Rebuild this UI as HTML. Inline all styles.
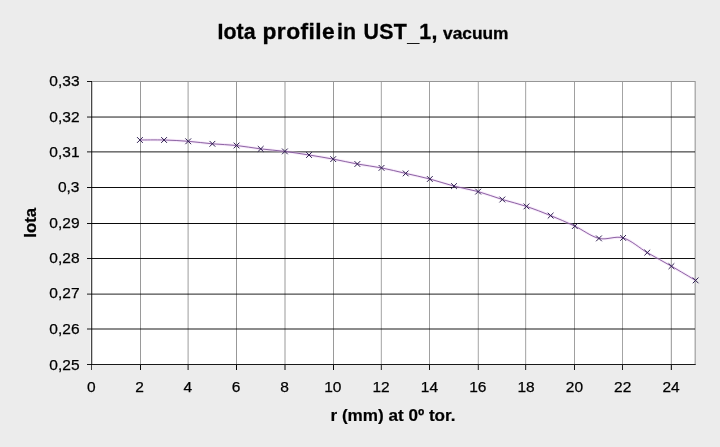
<!DOCTYPE html>
<html><head><meta charset="utf-8"><title>Iota profile in UST_1, vacuum</title>
<style>html,body{margin:0;padding:0;background:#ececec;}body{width:720px;height:447px;overflow:hidden;}svg{display:block;will-change:transform;}text{font-family:"Liberation Sans",sans-serif;fill:#000;}</style>
</head><body>
<svg width="720" height="447" viewBox="0 0 720 447">
<rect x="0" y="0" width="720" height="447" fill="#ececec"/>
<rect x="91" y="81" width="605" height="284" fill="#ffffff"/>
<g shape-rendering="crispEdges">
<rect x="90" y="82" width="1" height="282" fill="#f7f7f7"/>
<rect x="140" y="82" width="1" height="282" fill="#969696" fill-opacity="0.96"/>
<rect x="140" y="365" width="1" height="5" fill="#000" fill-opacity="0.96"/>
<rect x="187" y="82" width="1" height="282" fill="#969696" fill-opacity="0.38"/>
<rect x="187" y="365" width="1" height="5" fill="#000" fill-opacity="0.38"/>
<rect x="188" y="82" width="1" height="282" fill="#969696" fill-opacity="0.56"/>
<rect x="188" y="365" width="1" height="5" fill="#000" fill-opacity="0.56"/>
<rect x="236" y="82" width="1" height="282" fill="#969696" fill-opacity="0.98"/>
<rect x="236" y="365" width="1" height="5" fill="#000" fill-opacity="0.98"/>
<rect x="284" y="82" width="1" height="282" fill="#969696" fill-opacity="0.49"/>
<rect x="284" y="365" width="1" height="5" fill="#000" fill-opacity="0.49"/>
<rect x="285" y="82" width="1" height="282" fill="#969696" fill-opacity="0.49"/>
<rect x="285" y="365" width="1" height="5" fill="#000" fill-opacity="0.49"/>
<rect x="333" y="82" width="1" height="282" fill="#969696" fill-opacity="0.96"/>
<rect x="333" y="365" width="1" height="5" fill="#000" fill-opacity="0.96"/>
<rect x="380" y="82" width="1" height="282" fill="#969696" fill-opacity="0.16"/>
<rect x="380" y="365" width="1" height="5" fill="#000" fill-opacity="0.16"/>
<rect x="381" y="82" width="1" height="282" fill="#969696" fill-opacity="0.71"/>
<rect x="381" y="365" width="1" height="5" fill="#000" fill-opacity="0.71"/>
<rect x="429" y="82" width="1" height="282" fill="#969696" fill-opacity="0.90"/>
<rect x="429" y="365" width="1" height="5" fill="#000" fill-opacity="0.90"/>
<rect x="477" y="82" width="1" height="282" fill="#969696" fill-opacity="0.19"/>
<rect x="477" y="365" width="1" height="5" fill="#000" fill-opacity="0.19"/>
<rect x="478" y="82" width="1" height="282" fill="#969696" fill-opacity="0.68"/>
<rect x="478" y="365" width="1" height="5" fill="#000" fill-opacity="0.68"/>
<rect x="525" y="82" width="1" height="282" fill="#969696" fill-opacity="0.75"/>
<rect x="525" y="365" width="1" height="5" fill="#000" fill-opacity="0.75"/>
<rect x="526" y="82" width="1" height="282" fill="#969696" fill-opacity="0.14"/>
<rect x="526" y="365" width="1" height="5" fill="#000" fill-opacity="0.14"/>
<rect x="574" y="82" width="1" height="282" fill="#969696" fill-opacity="0.90"/>
<rect x="574" y="365" width="1" height="5" fill="#000" fill-opacity="0.90"/>
<rect x="622" y="82" width="1" height="282" fill="#969696" fill-opacity="0.87"/>
<rect x="622" y="365" width="1" height="5" fill="#000" fill-opacity="0.87"/>
<rect x="670" y="82" width="1" height="282" fill="#969696" fill-opacity="0.19"/>
<rect x="670" y="365" width="1" height="5" fill="#000" fill-opacity="0.19"/>
<rect x="671" y="82" width="1" height="282" fill="#969696" fill-opacity="0.83"/>
<rect x="671" y="365" width="1" height="5" fill="#000" fill-opacity="0.83"/>
<rect x="92" y="81" width="603" height="1" fill="#969696"/>
<rect x="694" y="82" width="1" height="282" fill="#969696" fill-opacity="0.38"/>
<rect x="695" y="81" width="1" height="284" fill="#969696" fill-opacity="0.75"/>
<rect x="87" y="116" width="608" height="1" fill="#000" fill-opacity="0.42"/>
<rect x="87" y="117" width="608" height="1" fill="#000" fill-opacity="0.48"/>
<rect x="87" y="151" width="608" height="1" fill="#000" fill-opacity="0.55"/>
<rect x="87" y="152" width="608" height="1" fill="#000" fill-opacity="0.34"/>
<rect x="87" y="187" width="608" height="1" fill="#000" fill-opacity="0.95"/>
<rect x="87" y="223" width="608" height="1" fill="#000" fill-opacity="0.96"/>
<rect x="87" y="258" width="608" height="1" fill="#000" fill-opacity="0.93"/>
<rect x="87" y="293" width="608" height="1" fill="#000" fill-opacity="0.34"/>
<rect x="87" y="294" width="608" height="1" fill="#000" fill-opacity="0.53"/>
<rect x="87" y="328" width="608" height="1" fill="#000" fill-opacity="0.45"/>
<rect x="87" y="329" width="608" height="1" fill="#000" fill-opacity="0.45"/>
<rect x="87" y="81" width="5" height="1" fill="#000" fill-opacity="0.9"/>
<rect x="91" y="81" width="1" height="289" fill="#000" fill-opacity="0.72"/>
<rect x="92" y="82" width="1" height="282" fill="#000" fill-opacity="0.2"/>
<rect x="87" y="364" width="608" height="1" fill="#000" fill-opacity="0.9"/>
<rect x="695" y="364" width="1" height="1" fill="#000" fill-opacity="0.55"/>
</g>
<path d="M139.92 140.00 C143.95 140.00 156.03 139.78 164.08 140.00 C172.13 140.22 180.19 140.67 188.24 141.30 C196.29 141.93 204.35 143.10 212.40 143.80 C220.45 144.50 228.51 144.65 236.56 145.50 C244.61 146.35 252.67 147.92 260.72 148.90 C268.77 149.88 276.83 150.38 284.88 151.40 C292.93 152.42 300.99 153.72 309.04 155.00 C317.09 156.28 325.15 157.60 333.20 159.10 C341.25 160.60 349.31 162.53 357.36 164.00 C365.41 165.47 373.47 166.33 381.52 167.90 C389.57 169.47 397.63 171.55 405.68 173.40 C413.73 175.25 421.79 176.88 429.84 179.00 C437.89 181.12 445.95 184.00 454.00 186.10 C462.05 188.20 470.11 189.37 478.16 191.60 C486.21 193.83 494.27 197.03 502.32 199.50 C510.37 201.97 518.43 203.72 526.48 206.40 C534.53 209.08 542.59 212.32 550.64 215.60 C558.69 218.88 566.75 222.30 574.80 226.10 C582.85 229.90 590.91 236.43 598.96 238.40 C607.01 240.37 615.07 235.53 623.12 237.90 C631.17 240.27 639.23 247.88 647.28 252.60 C655.33 257.32 663.39 261.57 671.44 266.20 C679.49 270.83 691.57 278.03 695.60 280.40" fill="none" stroke="#ecc8f2" stroke-width="2.8" stroke-opacity="0.4"/>
<path d="M139.92 140.00 C143.95 140.00 156.03 139.78 164.08 140.00 C172.13 140.22 180.19 140.67 188.24 141.30 C196.29 141.93 204.35 143.10 212.40 143.80 C220.45 144.50 228.51 144.65 236.56 145.50 C244.61 146.35 252.67 147.92 260.72 148.90 C268.77 149.88 276.83 150.38 284.88 151.40 C292.93 152.42 300.99 153.72 309.04 155.00 C317.09 156.28 325.15 157.60 333.20 159.10 C341.25 160.60 349.31 162.53 357.36 164.00 C365.41 165.47 373.47 166.33 381.52 167.90 C389.57 169.47 397.63 171.55 405.68 173.40 C413.73 175.25 421.79 176.88 429.84 179.00 C437.89 181.12 445.95 184.00 454.00 186.10 C462.05 188.20 470.11 189.37 478.16 191.60 C486.21 193.83 494.27 197.03 502.32 199.50 C510.37 201.97 518.43 203.72 526.48 206.40 C534.53 209.08 542.59 212.32 550.64 215.60 C558.69 218.88 566.75 222.30 574.80 226.10 C582.85 229.90 590.91 236.43 598.96 238.40 C607.01 240.37 615.07 235.53 623.12 237.90 C631.17 240.27 639.23 247.88 647.28 252.60 C655.33 257.32 663.39 261.57 671.44 266.20 C679.49 270.83 691.57 278.03 695.60 280.40" fill="none" stroke="#80549a" stroke-width="0.9"/>
<path d="M137.32 137.40 l5.2 5.2 M137.32 142.60 l5.2 -5.2 M161.48 137.40 l5.2 5.2 M161.48 142.60 l5.2 -5.2 M185.64 138.70 l5.2 5.2 M185.64 143.90 l5.2 -5.2 M209.80 141.20 l5.2 5.2 M209.80 146.40 l5.2 -5.2 M233.96 142.90 l5.2 5.2 M233.96 148.10 l5.2 -5.2 M258.12 146.30 l5.2 5.2 M258.12 151.50 l5.2 -5.2 M282.28 148.80 l5.2 5.2 M282.28 154.00 l5.2 -5.2 M306.44 152.40 l5.2 5.2 M306.44 157.60 l5.2 -5.2 M330.60 156.50 l5.2 5.2 M330.60 161.70 l5.2 -5.2 M354.76 161.40 l5.2 5.2 M354.76 166.60 l5.2 -5.2 M378.92 165.30 l5.2 5.2 M378.92 170.50 l5.2 -5.2 M403.08 170.80 l5.2 5.2 M403.08 176.00 l5.2 -5.2 M427.24 176.40 l5.2 5.2 M427.24 181.60 l5.2 -5.2 M451.40 183.50 l5.2 5.2 M451.40 188.70 l5.2 -5.2 M475.56 189.00 l5.2 5.2 M475.56 194.20 l5.2 -5.2 M499.72 196.90 l5.2 5.2 M499.72 202.10 l5.2 -5.2 M523.88 203.80 l5.2 5.2 M523.88 209.00 l5.2 -5.2 M548.04 213.00 l5.2 5.2 M548.04 218.20 l5.2 -5.2 M572.20 223.50 l5.2 5.2 M572.20 228.70 l5.2 -5.2 M596.36 235.80 l5.2 5.2 M596.36 241.00 l5.2 -5.2 M620.52 235.30 l5.2 5.2 M620.52 240.50 l5.2 -5.2 M644.68 250.00 l5.2 5.2 M644.68 255.20 l5.2 -5.2 M668.84 263.60 l5.2 5.2 M668.84 268.80 l5.2 -5.2 M693.00 277.80 l5.2 5.2 M693.00 283.00 l5.2 -5.2" fill="none" stroke="#2f1f52" stroke-width="1" stroke-linecap="round"/>
<text x="79.5" y="85.80" font-size="15.5" text-anchor="end" stroke="#000" stroke-width="0.25">0,33</text>
<text x="79.5" y="121.58" font-size="15.5" text-anchor="end" stroke="#000" stroke-width="0.25">0,32</text>
<text x="79.5" y="156.95" font-size="15.5" text-anchor="end" stroke="#000" stroke-width="0.25">0,31</text>
<text x="79.5" y="192.32" font-size="15.5" text-anchor="end" stroke="#000" stroke-width="0.25">0,3</text>
<text x="79.5" y="227.70" font-size="15.5" text-anchor="end" stroke="#000" stroke-width="0.25">0,29</text>
<text x="79.5" y="263.07" font-size="15.5" text-anchor="end" stroke="#000" stroke-width="0.25">0,28</text>
<text x="79.5" y="298.45" font-size="15.5" text-anchor="end" stroke="#000" stroke-width="0.25">0,27</text>
<text x="79.5" y="333.82" font-size="15.5" text-anchor="end" stroke="#000" stroke-width="0.25">0,26</text>
<text x="79.5" y="369.50" font-size="15.5" text-anchor="end" stroke="#000" stroke-width="0.25">0,25</text>
<text x="91.20" y="391.9" font-size="15.5" text-anchor="middle" stroke="#000" stroke-width="0.25">0</text>
<text x="139.52" y="391.9" font-size="15.5" text-anchor="middle" stroke="#000" stroke-width="0.25">2</text>
<text x="187.84" y="391.9" font-size="15.5" text-anchor="middle" stroke="#000" stroke-width="0.25">4</text>
<text x="236.16" y="391.9" font-size="15.5" text-anchor="middle" stroke="#000" stroke-width="0.25">6</text>
<text x="284.48" y="391.9" font-size="15.5" text-anchor="middle" stroke="#000" stroke-width="0.25">8</text>
<text x="332.80" y="391.9" font-size="15.5" text-anchor="middle" stroke="#000" stroke-width="0.25">10</text>
<text x="381.12" y="391.9" font-size="15.5" text-anchor="middle" stroke="#000" stroke-width="0.25">12</text>
<text x="429.44" y="391.9" font-size="15.5" text-anchor="middle" stroke="#000" stroke-width="0.25">14</text>
<text x="477.76" y="391.9" font-size="15.5" text-anchor="middle" stroke="#000" stroke-width="0.25">16</text>
<text x="526.08" y="391.9" font-size="15.5" text-anchor="middle" stroke="#000" stroke-width="0.25">18</text>
<text x="574.40" y="391.9" font-size="15.5" text-anchor="middle" stroke="#000" stroke-width="0.25">20</text>
<text x="622.72" y="391.9" font-size="15.5" text-anchor="middle" stroke="#000" stroke-width="0.25">22</text>
<text x="671.04" y="391.9" font-size="15.5" text-anchor="middle" stroke="#000" stroke-width="0.25">24</text>
<text y="39.3" font-size="21.33" font-weight="bold" stroke="#000" stroke-width="0.3"><tspan x="217.6">Iota</tspan><tspan x="337.1">in</tspan><tspan x="363.6" letter-spacing="0.3">UST</tspan><tspan dy="1.5" letter-spacing="0.3">_</tspan><tspan dy="-1.5" letter-spacing="0.3">1,</tspan><tspan x="443" font-size="17.33">vacuum</tspan></text>
<text transform="translate(262.5 39.3) scale(1.07 1)" font-size="21.33" font-weight="bold" stroke="#000" stroke-width="0.3" letter-spacing="0.4">profile</text>
<text x="393.0" y="420.9" font-size="17.1" font-weight="bold" text-anchor="middle" stroke="#000" stroke-width="0.2">r (mm) at 0º tor.</text>
<text transform="translate(36.4 222.8) rotate(-90)" font-size="16.8" font-weight="bold" text-anchor="middle" stroke="#000" stroke-width="0.2">Iota</text>
</svg>
</body></html>
